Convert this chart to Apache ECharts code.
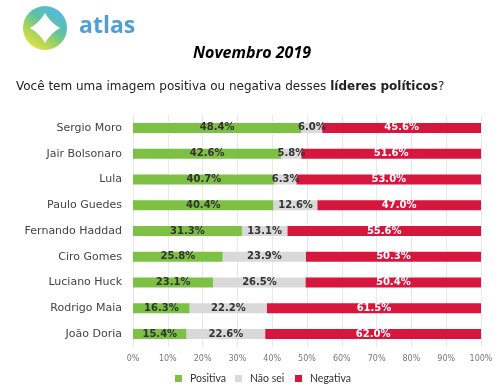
<!DOCTYPE html>
<html><head><meta charset="utf-8">
<script src="https://cdn.jsdelivr.net/npm/echarts@6/dist/echarts.min.js"></script>
<style>html,body{margin:0;padding:0;background:#fff}#c{width:504px;height:389px}</style>
</head><body><div id="c"></div>
<script>
const categories = ["Sergio Moro","Jair Bolsonaro","Lula","Paulo Guedes","Fernando Haddad","Ciro Gomes","Luciano Huck","Rodrigo Maia","João Doria"];
const positiva = [48.4,42.6,40.7,40.4,31.3,25.8,23.1,16.3,15.4];
const naoSei = [6.0,5.8,6.3,12.6,13.1,23.9,26.5,22.2,22.6];
const negativa = [45.6,51.6,53.0,47.0,55.6,50.3,50.4,61.5,62.0];
const seriesNames = ["Positiva","Não sei","Negativa"];

const chart = echarts.init(document.getElementById('c'));
const font = '"DejaVu Sans", sans-serif';
const lbl = (color) => ({show:true, position:'inside', color:color, fontSize:10, fontWeight:'bold', fontFamily:font, formatter: p => p.value.toFixed(1)+'%'});
const legendAt = (name, left) => ({left:left, bottom:5, itemWidth:7, itemHeight:7, itemGap:6, icon:'rect', padding:0,
    textStyle:{fontSize:10.5, color:'#333', fontFamily:'Lato, sans-serif', padding:[0,0,0,3]}, data:[name]});

// logo star outline (decoration): quadratic curves between tips
function starPoints(cx, cy, R, c) {
  const tips = [[cx,cy-R],[cx+R,cy],[cx,cy+R],[cx-R,cy]];
  const ctrls = [[cx+c,cy-c],[cx+c,cy+c],[cx-c,cy+c],[cx-c,cy-c]];
  const pts = [];
  for (let i = 0; i < 4; i++) {
    const a = tips[i], b = tips[(i+1)%4], q = ctrls[i];
    for (let t = 0; t < 1; t += 0.1) {
      const u = 1 - t;
      pts.push([u*u*a[0] + 2*u*t*q[0] + t*t*b[0], u*u*a[1] + 2*u*t*q[1] + t*t*b[1]]);
    }
  }
  return pts;
}

chart.setOption({
  animation:false,
  grid:{left:133, right:23, top:115, bottom:42},
  title:[
    {text:'Novembro 2019', left:'center', top:40, textStyle:{fontSize:16, fontWeight:'bold', fontStyle:'italic', color:'#000', fontFamily:'"Open Sans", sans-serif'}},
    {text:'Você tem uma imagem positiva ou negativa desses {b|líderes políticos}?', left:11, top:76,
     textStyle:{fontSize:12, fontWeight:'normal', color:'#222', fontFamily:font, rich:{b:{fontSize:12, fontWeight:'bold', color:'#222', fontFamily:font}}}}
  ],
  legend:[legendAt(seriesNames[0],175), legendAt(seriesNames[1],235), legendAt(seriesNames[2],295)],
  xAxis:{type:'value', min:0, max:100, interval:10,
    axisLabel:{formatter:'{value}%', fontSize:8, color:'#777', fontFamily:font},
    splitLine:{lineStyle:{color:'#e8e8e8'}}, axisLine:{show:false}, axisTick:{show:false}},
  yAxis:{type:'category', inverse:true, data:categories,
    axisLabel:{fontSize:11, color:'#444', margin:11, fontFamily:font},
    axisLine:{show:false}, axisTick:{show:false}},
  series:[
    {name:seriesNames[0], type:'bar', stack:'s', data:positiva, barWidth:10, itemStyle:{color:'#7cc143'}, label:lbl('#333')},
    {name:seriesNames[1], type:'bar', stack:'s', data:naoSei, barWidth:10, itemStyle:{color:'#d9d9d9'}, label:lbl('#333')},
    {name:seriesNames[2], type:'bar', stack:'s', data:negativa, barWidth:10, itemStyle:{color:'#d7163e'}, label:lbl('#fff')}
  ],
  graphic:[
    {type:'circle', shape:{cx:45, cy:28, r:22}, style:{fill:new echarts.graphic.LinearGradient(0.85,0,0.15,1,[{offset:0,color:'#55b8ec'},{offset:0.4,color:'#5cc0a8'},{offset:0.65,color:'#9fd35e'},{offset:1,color:'#f4e33e'}])}},
    {type:'polygon', shape:{points:starPoints(45,28,15,5.5)}, style:{fill:'#fff'}},
    {type:'text', left:79, top:15, style:{text:'atlas', fontSize:23, fontWeight:'bold', fill:'#4f9fd6', fontFamily:'"Open Sans", sans-serif'}}
  ]
});
</script></body></html>
